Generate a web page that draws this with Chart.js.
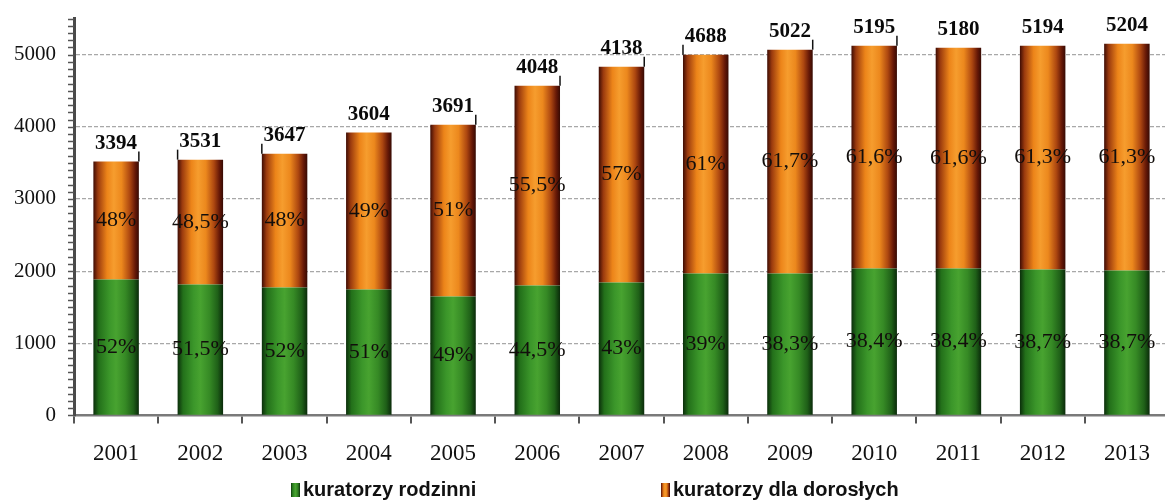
<!DOCTYPE html>
<html>
<head>
<meta charset="utf-8">
<script src="https://cdn.jsdelivr.net/npm/chart.js@4.4.1/dist/chart.umd.min.js"></script>
<style>
  html, body { margin: 0; padding: 0; background: #fff; overflow: hidden; }
  #wrap { width: 1165px; height: 504px; overflow: hidden; }
</style>
</head>
<body>
<div id="wrap"><canvas id="c" width="1169" height="504"></canvas></div>
<script>
const years = ["2001", "2002", "2003", "2004", "2005", "2006", "2007", "2008", "2009", "2010", "2011", "2012", "2013"];
// segment heights as drawn in the picture
const rodzinni = [1884, 1814, 1773, 1745, 1648, 1800, 1842, 1967, 1967, 2036, 2036, 2022, 2008];
const dorosli = [1634, 1731, 1855, 2175, 2382, 2770, 2992, 3033, 3102, 3089, 3061, 3103, 3144];
// printed labels
const totals = [3394, 3531, 3647, 3604, 3691, 4048, 4138, 4688, 5022, 5195, 5180, 5194, 5204];
const pctRodzinni = ["52%", "51,5%", "52%", "51%", "49%", "44,5%", "43%", "39%", "38,3%", "38,4%", "38,4%", "38,7%", "38,7%"];
const pctDorosli = ["48%", "48,5%", "48%", "49%", "51%", "55,5%", "57%", "61%", "61,7%", "61,6%", "61,6%", "61,3%", "61,3%"];
const yTicks = [0, 1000, 2000, 3000, 4000, 5000];
// which edge of the bar carries the little leader line (0 = none)
const leaderSide = [1, -1, -1, 0, 1, 1, 1, -1, 1, 1, 0, 0, 0];
const seriesNames = ["kuratorzy rodzinni", "kuratorzy dla dorosłych"];

const BAR_PCT = 0.54;
const GREEN = [[0, "#0b2e0b"], [0.12, "#23701a"], [0.35, "#3b962a"], [0.5, "#48a330"], [0.7, "#368a25"], [0.88, "#1f6018"], [1, "#0a2a0a"]];
const ORANGE = [[0, "#3e0c04"], [0.1, "#9a3a0e"], [0.3, "#ec8419"], [0.45, "#f69d2e"], [0.62, "#ec881d"], [0.8, "#ad4710"], [0.92, "#651807"], [1, "#360a03"]];
const SERIF = "'Liberation Serif', 'Times New Roman', serif";

function barFill(stops) {
  return (c) => {
    const chart = c.chart;
    const xs = chart.scales.x;
    if (!chart.chartArea || !xs) return stops[3][1];
    const cx = xs.getPixelForValue(c.dataIndex);
    const half = (xs.width / years.length) * BAR_PCT / 2;
    const g = chart.ctx.createLinearGradient(cx - half, 0, cx + half, 0);
    stops.forEach(([o, col]) => g.addColorStop(o, col));
    return g;
  };
}

const labelsPlugin = {
  id: "labels",
  beforeDatasetsDraw(chart) {
    // minor ticks along the y axis every 100
    const ys = chart.scales.y;
    const ctx = chart.ctx;
    ctx.save();
    ctx.strokeStyle = "#555";
    ctx.lineWidth = 1.5;
    for (let v = 0; v <= 5500; v += 100) {
      const py = Math.round(ys.getPixelForValue(v)) + 0.5;
      ctx.beginPath();
      ctx.moveTo(ys.right - 6, py);
      ctx.lineTo(ys.right, py);
      ctx.stroke();
    }
    ctx.restore();
  },
  afterDatasetsDraw(chart) {
    const ctx = chart.ctx;
    const m0 = chart.getDatasetMeta(0).data;
    const m1 = chart.getDatasetMeta(1).data;
    ctx.save();
    ctx.textAlign = "center";
    ctx.textBaseline = "middle";
    ctx.fillStyle = "#120e0c";
    ctx.font = "22px " + SERIF;
    m0.forEach((el, i) => ctx.fillText(pctRodzinni[i], el.x, (el.y + el.base) / 2));
    m1.forEach((el, i) => ctx.fillText(pctDorosli[i], el.x, (el.y + el.base) / 2));
    ctx.font = "bold 21px " + SERIF;
    ctx.fillStyle = "#0a0a0a";
    m1.forEach((el, i) => {
      ctx.fillText(String(totals[i]), el.x, el.y - 18);
      if (leaderSide[i]) {
        const lx = el.x + leaderSide[i] * el.width / 2;
        ctx.strokeStyle = "#111";
        ctx.lineWidth = 1.5;
        ctx.beginPath();
        ctx.moveTo(lx, el.y);
        ctx.lineTo(lx, el.y - 10);
        ctx.stroke();
      }
    });
    ctx.restore();
  },
  afterDraw(chart) {
    // legend
    const ctx = chart.ctx;
    const xs = [291, 661];
    const y = 490;
    ctx.save();
    ctx.font = "bold 20px 'Liberation Sans', Arial, sans-serif";
    ctx.textBaseline = "middle";
    ctx.textAlign = "left";
    [GREEN, ORANGE].forEach((stops, k) => {
      const g = ctx.createLinearGradient(xs[k], 0, xs[k] + 9, 0);
      stops.forEach(([o, col]) => g.addColorStop(o, col));
      ctx.fillStyle = g;
      ctx.fillRect(xs[k], y - 7, 9, 14);
      ctx.fillStyle = "#111";
      ctx.fillText(seriesNames[k], xs[k] + 12, y);
    });
    ctx.restore();
  }
};

new Chart(document.getElementById("c"), {
  type: "bar",
  data: {
    labels: years,
    datasets: [
      { label: seriesNames[0], data: rodzinni, backgroundColor: barFill(GREEN), borderWidth: 0 },
      { label: seriesNames[1], data: dorosli, backgroundColor: barFill(ORANGE), borderWidth: 0 }
    ]
  },
  options: {
    responsive: false,
    animation: false,
    devicePixelRatio: 1,
    datasets: { bar: { categoryPercentage: 1, barPercentage: BAR_PCT } },
    layout: { padding: { left: 8, right: 0, top: 0, bottom: 19 } },
    plugins: { legend: { display: false }, tooltip: { enabled: false } },
    scales: {
      x: {
        stacked: true,
        grid: { offset: true, drawOnChartArea: false, drawTicks: true, tickLength: 8, color: "#555", lineWidth: 2 },
        border: { display: true, color: "#7a7a7a", width: 2.5 },
        ticks: { color: "#111", padding: 17, font: { family: SERIF, size: 23 } }
      },
      y: {
        stacked: true,
        min: 0,
        max: 5500,
        afterBuildTicks(scale) { scale.ticks = yTicks.map((v) => ({ value: v })); },
        grid: {
          color: (c) => (c.tick && c.tick.value === 0 ? "rgba(0,0,0,0)" : "#a8a8a8"),
          lineWidth: 1.2,
          drawTicks: true,
          tickLength: 12,
          tickColor: "rgba(0,0,0,0)"
        },
        border: { display: true, color: "#4a4a4a", width: 3, dash: [4, 2] },
        ticks: { color: "#111", padding: 6, font: { family: SERIF, size: 21 }, callback: (v) => String(v) }
      }
    }
  },
  plugins: [labelsPlugin]
});
</script>
</body>
</html>
